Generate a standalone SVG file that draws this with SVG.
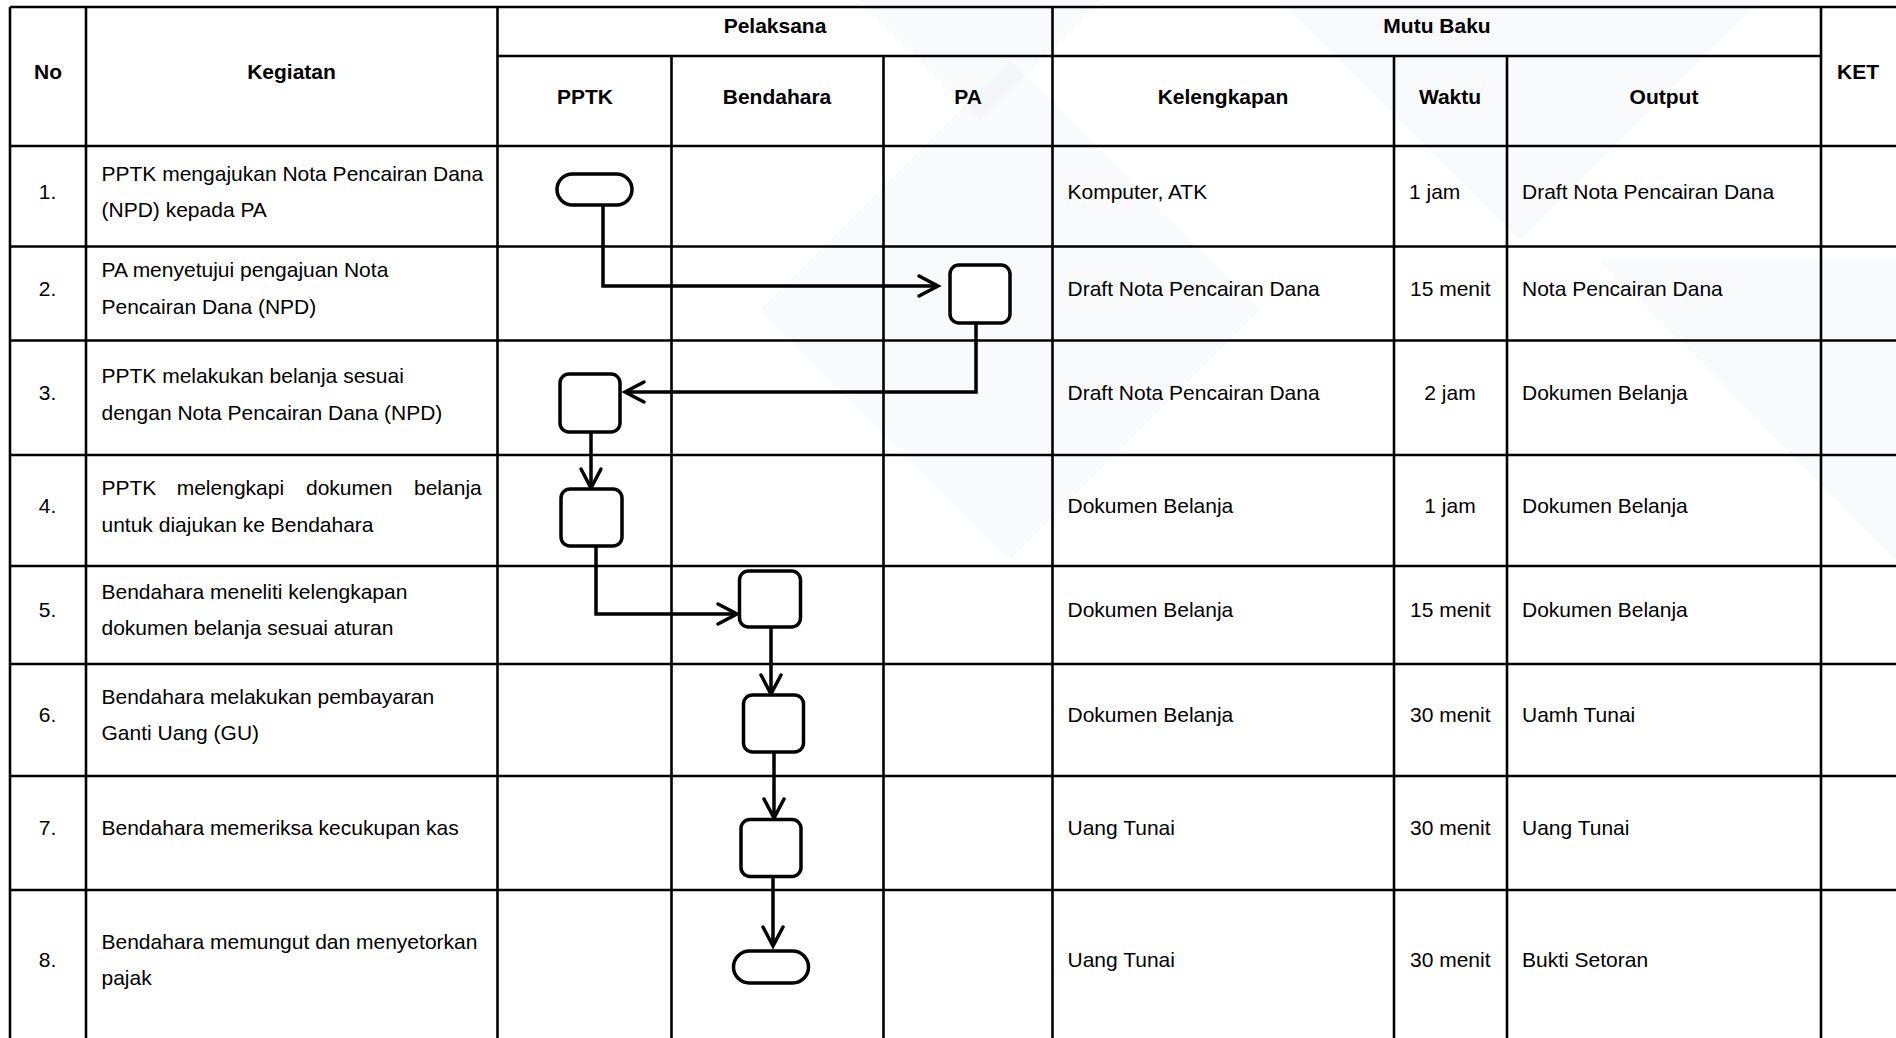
<svg xmlns="http://www.w3.org/2000/svg" width="1896" height="1038" viewBox="0 0 1896 1038">
<defs>
<style>
.grid line{stroke:#000;stroke-width:2.6;}
.t{font-family:"Liberation Sans",Arial,sans-serif;font-size:21px;fill:#000;}
.h{font-family:"Liberation Sans",Arial,sans-serif;font-size:21px;font-weight:bold;fill:#000;text-anchor:middle;}
.c{text-anchor:middle;}
.node rect{fill:#fff;stroke:#000;stroke-width:3.5;}
.conn path{fill:none;stroke:#000;stroke-width:3.5;stroke-linejoin:miter;}
.wm{fill:#eef2f7;opacity:0.35;}
</style>
<marker id="arr" markerUnits="userSpaceOnUse" viewBox="-22 -13 26 26" refX="0" refY="0" markerWidth="26" markerHeight="26" orient="auto">
<path d="M-19,-10 L0,0 L-19,10" fill="none" stroke="#000" stroke-width="3.5" stroke-linecap="round" stroke-linejoin="miter"/>
</marker>
</defs>
<rect x="0" y="0" width="1896" height="1038" fill="#fff"/>
<g id="watermark">
<polygon class="wm" points="1010,60 1260,310 1010,560 760,310"/>
<polygon class="wm" points="1280,0 1760,0 1520,240"/>
<polygon class="wm" points="1600,260 1896,260 1896,560"/>
<polygon class="wm" points="860,0 1100,0 980,120"/>
</g>
<g id="grid" class="grid">
<line x1="10" y1="7" x2="1896" y2="7"/>
<line x1="497.5" y1="56" x2="1821" y2="56"/>
<line x1="10" y1="146" x2="1896" y2="146"/>
<line x1="10" y1="246.5" x2="1896" y2="246.5"/>
<line x1="10" y1="340.5" x2="1896" y2="340.5"/>
<line x1="10" y1="455" x2="1896" y2="455"/>
<line x1="10" y1="566" x2="1896" y2="566"/>
<line x1="10" y1="664" x2="1896" y2="664"/>
<line x1="10" y1="776" x2="1896" y2="776"/>
<line x1="10" y1="890" x2="1896" y2="890"/>
<line x1="10" y1="7" x2="10" y2="1038"/>
<line x1="86" y1="7" x2="86" y2="1038"/>
<line x1="497.5" y1="7" x2="497.5" y2="1038"/>
<line x1="1052.5" y1="7" x2="1052.5" y2="1038"/>
<line x1="1821" y1="7" x2="1821" y2="1038"/>
<line x1="671.5" y1="56" x2="671.5" y2="1038"/>
<line x1="883.5" y1="56" x2="883.5" y2="1038"/>
<line x1="1394" y1="56" x2="1394" y2="1038"/>
<line x1="1507" y1="56" x2="1507" y2="1038"/>
</g>
<g id="headers">
<text class="h" x="48" y="79">No</text>
<text class="h" x="291.5" y="79">Kegiatan</text>
<text class="h" x="775" y="33">Pelaksana</text>
<text class="h" x="1437" y="33">Mutu Baku</text>
<text class="h" x="1858" y="79">KET</text>
<text class="h" x="585" y="104">PPTK</text>
<text class="h" x="777" y="104">Bendahara</text>
<text class="h" x="968" y="104">PA</text>
<text class="h" x="1223" y="104">Kelengkapan</text>
<text class="h" x="1450" y="104">Waktu</text>
<text class="h" x="1664" y="104">Output</text>
</g>
<g id="rows">
<text class="t c" x="47.5" y="199">1.</text>
<text class="t" x="101.5" y="181">PPTK mengajukan Nota Pencairan Dana</text>
<text class="t" x="101.5" y="217">(NPD) kepada PA</text>
<text class="t" x="1067.5" y="199">Komputer, ATK</text>
<text class="t" x="1409" y="199">1 jam</text>
<text class="t" x="1522" y="199">Draft Nota Pencairan Dana</text>

<text class="t c" x="47.5" y="295.5">2.</text>
<text class="t" x="101.5" y="277">PA menyetujui pengajuan Nota</text>
<text class="t" x="101.5" y="314">Pencairan Dana (NPD)</text>
<text class="t" x="1067.5" y="295.5">Draft Nota Pencairan Dana</text>
<text class="t" x="1410" y="295.5">15 menit</text>
<text class="t" x="1522" y="295.5">Nota Pencairan Dana</text>

<text class="t c" x="47.5" y="400">3.</text>
<text class="t" x="101.5" y="382.5">PPTK melakukan belanja sesuai</text>
<text class="t" x="101.5" y="419.5">dengan Nota Pencairan Dana (NPD)</text>
<text class="t" x="1067.5" y="400">Draft Nota Pencairan Dana</text>
<text class="t c" x="1450" y="400">2 jam</text>
<text class="t" x="1522" y="400">Dokumen Belanja</text>

<text class="t c" x="47.5" y="513">4.</text>
<text class="t" y="495"><tspan x="101.5">PPTK</tspan> <tspan x="176.7">melengkapi</tspan> <tspan x="306">dokumen</tspan> <tspan x="414">belanja</tspan></text>
<text class="t" x="101.5" y="531.5">untuk diajukan ke Bendahara</text>
<text class="t" x="1067.5" y="513">Dokumen Belanja</text>
<text class="t c" x="1450" y="513">1 jam</text>
<text class="t" x="1522" y="513">Dokumen Belanja</text>

<text class="t c" x="47.5" y="617">5.</text>
<text class="t" x="101.5" y="599">Bendahara meneliti kelengkapan</text>
<text class="t" x="101.5" y="635">dokumen belanja sesuai aturan</text>
<text class="t" x="1067.5" y="617">Dokumen Belanja</text>
<text class="t" x="1410" y="617">15 menit</text>
<text class="t" x="1522" y="617">Dokumen Belanja</text>

<text class="t c" x="47.5" y="722">6.</text>
<text class="t" x="101.5" y="704">Bendahara melakukan pembayaran</text>
<text class="t" x="101.5" y="740">Ganti Uang (GU)</text>
<text class="t" x="1067.5" y="722">Dokumen Belanja</text>
<text class="t" x="1410" y="722">30 menit</text>
<text class="t" x="1522" y="722">Uamh Tunai</text>

<text class="t c" x="47.5" y="835">7.</text>
<text class="t" x="101.5" y="835">Bendahara memeriksa kecukupan kas</text>
<text class="t" x="1067.5" y="835">Uang Tunai</text>
<text class="t" x="1410" y="835">30 menit</text>
<text class="t" x="1522" y="835">Uang Tunai</text>

<text class="t c" x="47.5" y="966.5">8.</text>
<text class="t" x="101.5" y="948.5">Bendahara memungut dan menyetorkan</text>
<text class="t" x="101.5" y="985">pajak</text>
<text class="t" x="1067.5" y="966.5">Uang Tunai</text>
<text class="t" x="1410" y="966.5">30 menit</text>
<text class="t" x="1522" y="966.5">Bukti Setoran</text>
</g>
<g id="connectors" class="conn">
<path d="M603,205 V286 H938" marker-end="url(#arr)"/>
<path d="M976,323 V392 H625" marker-end="url(#arr)"/>
<path d="M591,432 V488" marker-end="url(#arr)"/>
<path d="M596,546 V614 H737" marker-end="url(#arr)"/>
<path d="M771,627 V694" marker-end="url(#arr)"/>
<path d="M774,752 V818" marker-end="url(#arr)"/>
<path d="M773,877 V946" marker-end="url(#arr)"/>
</g>
<g id="node1" class="node"><rect x="557" y="174" width="75" height="31" rx="15.5"/></g>
<g id="node2" class="node"><rect x="950" y="265" width="60" height="58" rx="9"/></g>
<g id="node3" class="node"><rect x="560" y="374" width="60" height="58" rx="9"/></g>
<g id="node4" class="node"><rect x="561" y="489" width="61" height="57" rx="9"/></g>
<g id="node5" class="node"><rect x="739.5" y="571" width="61" height="56" rx="9"/></g>
<g id="node6" class="node"><rect x="743.5" y="695" width="60" height="57" rx="9"/></g>
<g id="node7" class="node"><rect x="741" y="819.5" width="60" height="57" rx="9"/></g>
<g id="node8" class="node"><rect x="733.5" y="951" width="75" height="32" rx="16"/></g>
</svg>
